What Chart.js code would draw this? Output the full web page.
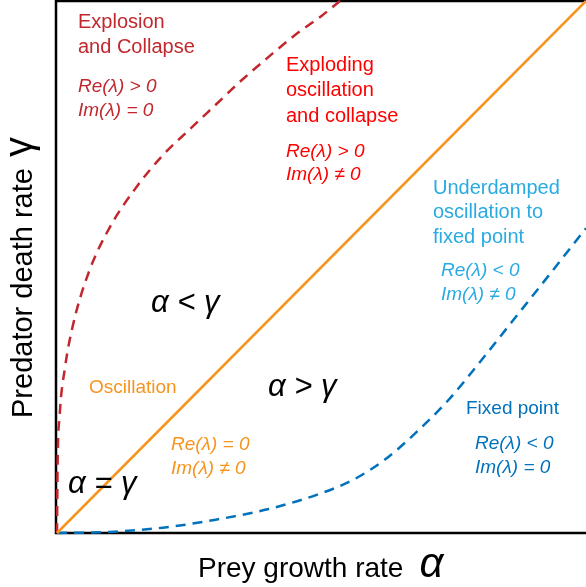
<!DOCTYPE html>
<html>
<head>
<meta charset="utf-8">
<script src="https://cdn.jsdelivr.net/npm/chart.js@4/dist/chart.umd.min.js"></script>
<style>
  html, body { margin: 0; padding: 0; background: #fff; }
  canvas { display: block; }
</style>
</head>
<body>
<canvas id="phaseChart" width="586" height="587"></canvas>
<script>
// boundary alpha = gamma
const lineX = [0, 1];
const lineY = [0, 1];

// explosion / exploding-oscillation boundary
const redX = [0, 0.001, 0.005, 0.015, 0.03, 0.06, 0.1, 0.15, 0.2, 0.25, 0.3, 0.35, 0.4, 0.45, 0.5, 0.535];
const redY = [0, 0.12, 0.22, 0.31, 0.39, 0.49, 0.575, 0.65, 0.71, 0.758, 0.805, 0.852, 0.895, 0.936, 0.972, 1.0];

// underdamped / fixed point boundary
const blueX = [0, 0.1, 0.2, 0.3, 0.4, 0.5, 0.56, 0.62, 0.68, 0.74, 0.8, 0.86, 0.92, 1.0];
const blueY = [0, 0.002, 0.01, 0.025, 0.045, 0.075, 0.1, 0.138, 0.19, 0.25, 0.322, 0.397, 0.472, 0.573];

const xTitle = 'Prey growth rate';
const yTitle = 'Predator death rate';

const FONT = '"Liberation Sans", Arial, sans-serif';
const DARKRED = '#c1272d';
const RED = '#ff0000';
const ORANGE = '#f7941d';
const LIGHTBLUE = '#29abe2';
const BLUE = '#0072bc';

const zip = (xs, ys) => xs.map((x, i) => ({ x: x, y: ys[i] }));

// region labels: [text, left, baseline, colour, font]
const labels = [
    ['Explosion', 78, 28, DARKRED, '20px ' + FONT],
    ['and Collapse', 78, 53, DARKRED, '20px ' + FONT],
    ['Re(λ) > 0', 78, 92, DARKRED, 'italic 19px ' + FONT],
    ['Im(λ) = 0', 78, 116, DARKRED, 'italic 19px ' + FONT],

    ['Exploding', 286, 71, RED, '20px ' + FONT],
    ['oscillation', 286, 96, RED, '20px ' + FONT],
    ['and collapse', 286, 122, RED, '20px ' + FONT],
    ['Re(λ) > 0', 286, 157, RED, 'italic 19px ' + FONT],
    ['Im(λ) ≠ 0', 286, 180, RED, 'italic 19px ' + FONT],

    ['Underdamped', 433, 194, LIGHTBLUE, '20px ' + FONT],
    ['oscillation to', 433, 218, LIGHTBLUE, '20px ' + FONT],
    ['fixed point', 433, 243, LIGHTBLUE, '20px ' + FONT],
    ['Re(λ) < 0', 441, 276, LIGHTBLUE, 'italic 19px ' + FONT],
    ['Im(λ) ≠ 0', 441, 300, LIGHTBLUE, 'italic 19px ' + FONT],

    ['Fixed point', 466, 414, BLUE, '19px ' + FONT],
    ['Re(λ) < 0', 475, 449, BLUE, 'italic 19px ' + FONT],
    ['Im(λ) = 0', 475, 473, BLUE, 'italic 19px ' + FONT],

    ['Oscillation', 89, 393, ORANGE, '19px ' + FONT],
    ['Re(λ) = 0', 171, 450, ORANGE, 'italic 19px ' + FONT],
    ['Im(λ) ≠ 0', 171, 474, ORANGE, 'italic 19px ' + FONT],

    ['α < γ', 151, 312, '#000', 'italic 31px ' + FONT],
    ['α > γ', 268, 396, '#000', 'italic 31px ' + FONT],
    ['α = γ', 68, 493, '#000', 'italic 31px ' + FONT]
];

const framePlugin = {
    id: 'frame',
    beforeDatasetsDraw(chart) {
        const { ctx, chartArea: a } = chart;
        ctx.save();
        ctx.strokeStyle = '#000';
        ctx.lineWidth = 2.5;
        ctx.beginPath();
        ctx.moveTo(a.right, a.top);
        ctx.lineTo(a.left - 1, a.top);
        ctx.lineTo(a.left - 1, a.bottom);
        ctx.lineTo(a.right, a.bottom);
        ctx.stroke();
        ctx.restore();
    },
    afterDraw(chart) {
        const { ctx } = chart;
        ctx.save();
        ctx.textBaseline = 'alphabetic';
        ctx.textAlign = 'left';
        labels.forEach(([t, x, y, c, f]) => {
            ctx.fillStyle = c;
            ctx.font = f;
            ctx.fillText(t, x, y);
        });

        // x title
        ctx.fillStyle = '#000';
        ctx.font = '28px ' + FONT;
        ctx.fillText(xTitle, 198, 577);
        const w = ctx.measureText(xTitle).width;
        ctx.font = 'italic 42px ' + FONT;
        ctx.fillText('α', 198 + w + 16, 577);

        // y title
        ctx.translate(32, 418);
        ctx.rotate(-Math.PI / 2);
        ctx.font = '29px ' + FONT;
        ctx.fillText(yTitle, 0, 0);
        const h = ctx.measureText(yTitle).width;
        ctx.font = '40px ' + FONT;
        ctx.fillText('γ', h + 11, 0);
        ctx.restore();
    }
};

new Chart(document.getElementById('phaseChart'), {
    type: 'scatter',
    data: {
        datasets: [
            {
                data: zip(lineX, lineY),
                showLine: true,
                borderColor: ORANGE,
                borderWidth: 2.5,
                pointRadius: 0,
                clip: 4
            },
            {
                data: zip(redX, redY),
                showLine: true,
                borderColor: DARKRED,
                borderWidth: 2.5,
                borderDash: [10, 7],
                cubicInterpolationMode: 'monotone',
                pointRadius: 0,
                clip: 4
            },
            {
                data: zip(blueX, blueY),
                showLine: true,
                borderColor: BLUE,
                borderWidth: 2.5,
                borderDash: [10, 7],
                cubicInterpolationMode: 'monotone',
                pointRadius: 0,
                clip: 4
            }
        ]
    },
    options: {
        responsive: false,
        animation: false,
        layout: { padding: { left: 57, top: 1, right: 0, bottom: 54 } },
        plugins: {
            legend: { display: false },
            tooltip: { enabled: false }
        },
        scales: {
            x: { type: 'linear', min: 0, max: 1, display: false },
            y: { type: 'linear', min: 0, max: 1, display: false }
        }
    },
    plugins: [framePlugin]
});
</script>
</body>
</html>
